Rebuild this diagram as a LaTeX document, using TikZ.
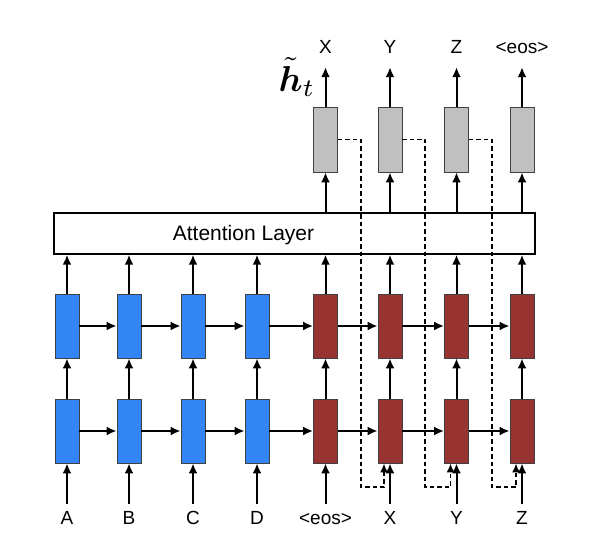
\documentclass[tikz,border=0pt]{standalone}
\usepackage{amsmath}
\usepackage{fontspec}
\setmainfont{Liberation Sans}
\usetikzlibrary{arrows.meta,calc}
\definecolor{encblue}{HTML}{3385F5}
\definecolor{decred}{HTML}{973432}
\definecolor{attgray}{HTML}{C0C0C0}
\definecolor{cellborder}{HTML}{404040}
\tikzset{
  cell/.style={draw=cellborder, line width=0.8pt, minimum width=24pt, minimum height=64pt, inner sep=0pt},
  enc/.style={cell, fill=encblue},
  dec/.style={cell, fill=decred},
  outcell/.style={cell, fill=attgray, minimum height=65pt},
  arr/.style={-{Latex[length=10pt,width=9pt]}, line width=2pt},
  fb/.style={dash pattern=on 4.5pt off 3pt, line width=1.9pt, -{Latex[length=9pt,width=8pt]}},
  lab/.style={font=\fontsize{19}{22}\selectfont, inner sep=0pt, text height=13.6pt, text depth=0pt, anchor=base}
}
\begin{document}
\begin{tikzpicture}[x=1pt,y=-1pt]
\useasboundingbox (0,0) rectangle (594,548);
% encoder / decoder cells
\foreach \i/\x/\s in {1/67/enc,2/129/enc,3/193/enc,4/257/enc,5/325.5/dec,6/390/dec,7/456.5/dec,8/522/dec}{
  \node[\s] (l\i) at (\x,431) {};
  \node[\s] (u\i) at (\x,326) {};
}
% output cells
\foreach \i/\x in {5/325.5,6/390,7/456.5,8/522}{
  \node[outcell] (g\i) at (\x,139.5) {};
}
% attention layer
\node[draw=black, line width=1.4pt, fill=white, minimum width=481pt, minimum height=41pt, inner sep=0pt] (att) at (294.5,233.5) {};
\node[font=\fontsize{21}{24}\selectfont, inner sep=0pt] (attlab) at (243.5,235) {Attention Layer};
% input labels
\foreach \i/\t in {1/A,2/B,3/C,4/D,5/{<eos>},6/X,7/Y,8/Z}{
  \node[lab] (in\i) at (l\i |- 0,524) {\t};
  \draw[arr, shorten <=6pt] (in\i.north) -- (l\i.south);
  \draw[arr] (l\i.north) -- (u\i.south);
  \draw[arr] (u\i.north) -- (u\i.north |- att.south);
}
% output labels
\foreach \i/\t in {5/X,6/Y,7/Z,8/{<eos>}}{
  \node[lab] (out\i) at (g\i |- 0,54) {\t};
  \draw[arr] (att.north -| g\i) -- (g\i.south);
  \draw[arr, shorten >=13pt] (g\i.north) -- (out\i.south);
}
% recurrent connections
\foreach \i [evaluate=\i as \j using int(\i+1)] in {1,...,7}{
  \draw[arr] (l\i.east) -- (l\j.west);
  \draw[arr] (u\i.east) -- (u\j.west);
}
% input feeding (dashed)
\foreach \i [evaluate=\i as \j using int(\i+1)] in {5,6,7}{
  \draw[fb] (g\i.east) -- ++(23,0) |- ([xshift=-6pt,yshift=-24pt]l\j.south) -- ([xshift=-6pt]l\j.south);
}
% h tilde label
\node[inner sep=0pt] (htilde) at (297,77) {\scalebox{3.6}{$\tilde{\boldsymbol{h}}_t$}};
\end{tikzpicture}
\end{document}
